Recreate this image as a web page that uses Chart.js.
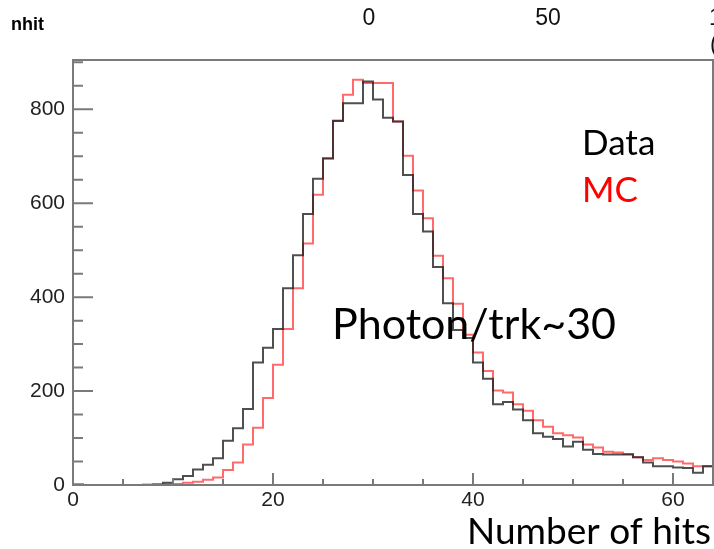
<!DOCTYPE html>
<html>
<head>
<meta charset="utf-8">
<script src="https://cdn.jsdelivr.net/npm/chart.js@4.4.1/dist/chart.umd.min.js"></script>
<style>
  html, body { margin: 0; padding: 0; background: #fff; }
  #wrap { width: 714px; height: 549px; }
</style>
</head>
<body>
<div id="wrap"><canvas id="c" width="714" height="549"></canvas></div>
<script>
// bin low edges (width 1), last entry closes the final bin
const binEdges = [0,1,2,3,4,5,6,7,8,9,10,11,12,13,14,15,16,17,18,19,20,21,22,23,24,25,26,27,28,29,30,31,
                  32,33,34,35,36,37,38,39,40,41,42,43,44,45,46,47,48,49,50,51,52,53,54,55,56,57,58,59,60,61,62,63,64];

const dataCounts = [0,0,0,0,0,0,0,0,1,5,12,19,33,43,57,94,121,162,261,292,332,419,489,577,652,695,775,813,813,859,821,782,
                    774,660,577,540,464,387,330,313,261,226,172,177,161,138,110,103,98,82,92,75,66,65,65,65,59,48,40,40,37,36,26,40];

const mcCounts = [2,0,0,0,0,0,0,1,1,1,2,5,7,11,16,32,48,86,122,185,256,332,419,514,618,696,776,831,863,856,856,856,
                  774,701,627,568,488,440,386,320,282,243,201,197,172,158,138,124,110,106,101,86,80,71,69,66,59,53,57,53,50,46,40,40];

const xTickLabels = [0, 20, 40, 60];
const yTickLabels = [0, 200, 400, 600, 800];

function toSteps(counts) {
  return binEdges.map((x, i) => ({ x: x, y: counts[Math.min(i, counts.length - 1)] }));
}

const labelFont = '"Liberation Sans", Arial, sans-serif';
const textFont = 'Lato, "Open Sans", sans-serif';

const rootFrame = {
  id: 'rootFrame',
  afterDraw(chart) {
    const c = chart.ctx, a = chart.chartArea;
    const xs = chart.scales.x, ys = chart.scales.y;
    c.save();
    c.strokeStyle = '#7a7a7a';
    c.lineWidth = 2;
    c.strokeRect(a.left, a.top, a.right - a.left, a.bottom - a.top);

    // inside ticks, ROOT style
    c.beginPath();
    for (let v = 0; v <= 64; v += 5) {
      const px = xs.getPixelForValue(v);
      const len = v % 20 === 0 ? 12 : 6;
      c.moveTo(px, a.bottom); c.lineTo(px, a.bottom - len);
    }
    for (let v = 0; v <= 900; v += 50) {
      const py = ys.getPixelForValue(v);
      const len = v % 200 === 0 ? 20 : 10;
      c.moveTo(a.left, py); c.lineTo(a.left + len, py);
    }
    c.stroke();

    // texts
    c.fillStyle = '#000';
    c.textBaseline = 'alphabetic';
    c.textAlign = 'left';
    c.font = 'bold 18px ' + labelFont;
    c.fillText('nhit', 11, 30);

    c.font = '23px ' + labelFont;
    c.fillStyle = '#111';
    c.textAlign = 'center';
    c.fillText('0', 369, 25);
    c.fillText('50', 548, 25);
    c.textAlign = 'left';
    c.fillText('1', 709, 25);
    c.fillText('(', 710, 52);

    c.font = '35px ' + textFont;
    c.fillStyle = '#000';
    c.fillText('Data', 582, 155);
    c.fillStyle = '#ff0000';
    c.fillText('MC', 582, 202);

    c.fillStyle = '#000';
    c.font = '43px ' + textFont;
    c.fillText('Photon/trk~30', 332, 339);

    c.font = '37px ' + textFont;
    c.textAlign = 'right';
    c.fillText('Number of hits', 711, 544);
    c.restore();
  }
};

new Chart(document.getElementById('c').getContext('2d'), {
  type: 'line',
  data: {
    datasets: [
      {
        label: 'Data',
        data: toSteps(dataCounts),
        borderColor: 'rgba(30,30,30,0.78)',
        borderWidth: 2,
        stepped: true,
        pointRadius: 0,
        fill: false
      },
      {
        label: 'MC',
        data: toSteps(mcCounts),
        borderColor: 'rgba(255,50,50,0.72)',
        borderWidth: 2,
        stepped: true,
        pointRadius: 0,
        fill: false
      }
    ]
  },
  options: {
    responsive: false,
    animation: false,
    layout: { padding: { top: 60, right: 1, left: 0, bottom: 0 } },
    plugins: {
      legend: { display: false },
      tooltip: { enabled: false }
    },
    scales: {
      x: {
        type: 'linear',
        min: 0,
        max: 64,
        afterFit: s => { s.height = 64; },
        afterBuildTicks: s => { s.ticks = xTickLabels.map(v => ({ value: v })); },
        grid: { display: false, drawTicks: false },
        border: { display: false },
        ticks: {
          padding: 3,
          maxRotation: 0,
          autoSkip: false,
          color: '#222',
          font: { family: labelFont, size: 21 }
        }
      },
      y: {
        type: 'linear',
        min: 0,
        max: 905,
        afterFit: s => { s.width = 73; },
        afterBuildTicks: s => { s.ticks = yTickLabels.map(v => ({ value: v })); },
        grid: { display: false, drawTicks: false },
        border: { display: false },
        ticks: {
          padding: 8,
          autoSkip: false,
          color: '#222',
          font: { family: labelFont, size: 21 }
        }
      }
    }
  },
  plugins: [rootFrame]
});
</script>
</body>
</html>
